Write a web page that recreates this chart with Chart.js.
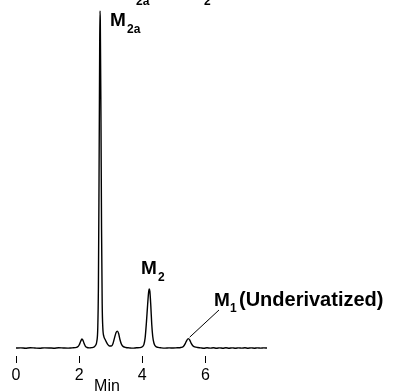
<!DOCTYPE html>
<html>
<head>
<meta charset="utf-8">
<script src="https://cdn.jsdelivr.net/npm/chart.js@4/dist/chart.umd.min.js"></script>
<style>
html,body{margin:0;padding:0;background:#fff;}
#c{display:block;}
</style>
</head>
<body>
<canvas id="c" width="396" height="392"></canvas>
<script>
// Retention time (min)
const times = [
  0.00,0.15,0.30,0.45,0.60,0.75,0.90,1.05,1.20,1.35,1.50,1.65,1.78,1.88,
  1.95,2.00,2.04,2.07,2.09,2.12,2.16,2.20,2.25,2.32,2.40,2.47,2.52,2.56,
  2.59,2.61,2.63,2.65,2.66,2.67,2.69,2.71,2.73,2.75,2.78,2.82,2.86,2.91,
  2.96,3.02,3.07,3.12,3.17,3.21,3.25,3.29,3.34,3.40,3.48,3.58,3.70,3.82,
  3.92,3.99,4.05,4.09,4.13,4.17,4.20,4.22,4.24,4.27,4.30,4.33,4.37,4.42,
  4.50,4.60,4.72,4.85,4.98,5.10,5.22,5.30,5.36,5.41,5.46,5.50,5.55,5.60,
  5.66,5.75,5.85,5.95,6.05,6.15,6.25,6.35,6.45,6.55,6.65,6.75,6.85,6.95,
  7.05,7.15,7.25,7.35,7.45,7.55,7.65,7.75,7.85,7.95
];
// Detector signal (relative, main peak = 100)
const signal = [
  0.00,0.05,-0.05,0.08,0.00,-0.06,0.05,0.02,-0.05,0.06,0.00,-0.04,0.05,0.10,
  0.35,0.9,1.8,2.4,2.7,2.3,1.3,0.5,0.15,0.05,0.10,0.30,0.8,2.0,
  6,18,50,88,100,97,70,35,13,6,3.5,2.6,1.8,1.0,
  0.6,0.6,1.3,3.0,4.6,5.0,4.3,2.6,1.1,0.4,0.15,0.05,-0.04,0.06,
  0.10,0.3,1.0,3.0,7.5,13,16.5,17.5,16.8,12.5,7.0,3.5,1.4,0.5,
  0.2,0.05,-0.04,0.05,0.00,0.06,0.15,0.45,1.3,2.3,2.8,2.4,1.4,0.7,
  0.35,0.15,0.05,-0.06,0.06,-0.04,0.07,-0.06,0.05,-0.05,0.06,-0.05,0.05,-0.06,
  0.05,-0.04,0.06,-0.05,0.04,-0.05,0.05,-0.04,0.05,0.00
];
const xTicks = [0, 2, 4, 6];
const xTickLabels = ['0', '2', '4', '6'];
const xTitle = 'Min';

const points = times.map((t, i) => ({x: t, y: signal[i]}));

const labelPlugin = {
  id: 'peakLabels',
  afterDraw(chart) {
    const ctx = chart.ctx;
    const xs = chart.scales.x, ys = chart.scales.y;
    ctx.save();
    ctx.fillStyle = '#000';
    ctx.textBaseline = 'alphabetic';
    ctx.textAlign = 'left';
    const big = 'bold 19px "Liberation Sans", Arial, sans-serif';
    const wide = 'bold 20px "Liberation Sans", Arial, sans-serif';
    const sub = 'bold 12px "Liberation Sans", Arial, sans-serif';
    // cropped labels at very top
    ctx.font = sub;
    ctx.fillText('2a', 136, 5);
    ctx.fillText('2', 204, 5);
    // M2a
    ctx.font = big; ctx.fillText('M', 110, 25.5);
    ctx.font = sub; ctx.fillText('2a', 127, 32.5);
    // M2
    ctx.font = big; ctx.fillText('M', 141, 273.5);
    ctx.font = sub; ctx.fillText('2', 158, 280.5);
    // M1 (Underivatized)
    ctx.font = big; ctx.fillText('M', 214, 305.5);
    ctx.font = sub; ctx.fillText('1', 230, 312);
    ctx.font = wide; ctx.fillText('(Underivatized)', 239, 305.5);
    // leader line to M1 peak
    ctx.strokeStyle = '#000';
    ctx.lineWidth = 1;
    ctx.beginPath();
    ctx.moveTo(219, 310);
    ctx.lineTo(xs.getPixelForValue(5.50), ys.getPixelForValue(3.2));
    ctx.stroke();
    // axis title
    ctx.font = '16px "Liberation Sans", Arial, sans-serif';
    ctx.textAlign = 'center';
    ctx.fillText(xTitle, 107, 391);
    ctx.restore();
  }
};

new Chart(document.getElementById('c'), {
  type: 'line',
  data: {
    datasets: [{
      data: points,
      borderColor: '#000',
      borderWidth: 1.4,
      pointRadius: 0,
      fill: false,
      tension: 0,
      cubicInterpolationMode: 'monotone',
      clip: false
    }]
  },
  options: {
    responsive: false,
    animation: false,
    devicePixelRatio: 1,
    layout: {padding: {left: 16, right: 129, top: 11, bottom: 0}},
    plugins: {legend: {display: false}, tooltip: {enabled: false}},
    scales: {
      x: {
        type: 'linear',
        min: 0,
        max: 7.95,
        afterBuildTicks(scale) { scale.ticks = xTicks.map(v => ({value: v})); },
        afterFit(scale) { scale.height = 36; },
        border: {display: false},
        grid: {drawOnChartArea: false, drawTicks: true, tickLength: 7, color: '#000', lineWidth: 1},
        ticks: {
          color: '#000',
          padding: 3,
          maxRotation: 0,
          font: {family: '"Liberation Sans", Arial, sans-serif', size: 16},
          callback: (v) => { const i = xTicks.indexOf(v); return i >= 0 ? xTickLabels[i] : ''; }
        }
      },
      y: {
        display: false,
        min: -2.37,
        max: 100
      }
    }
  },
  plugins: [labelPlugin]
});
</script>
</body>
</html>
